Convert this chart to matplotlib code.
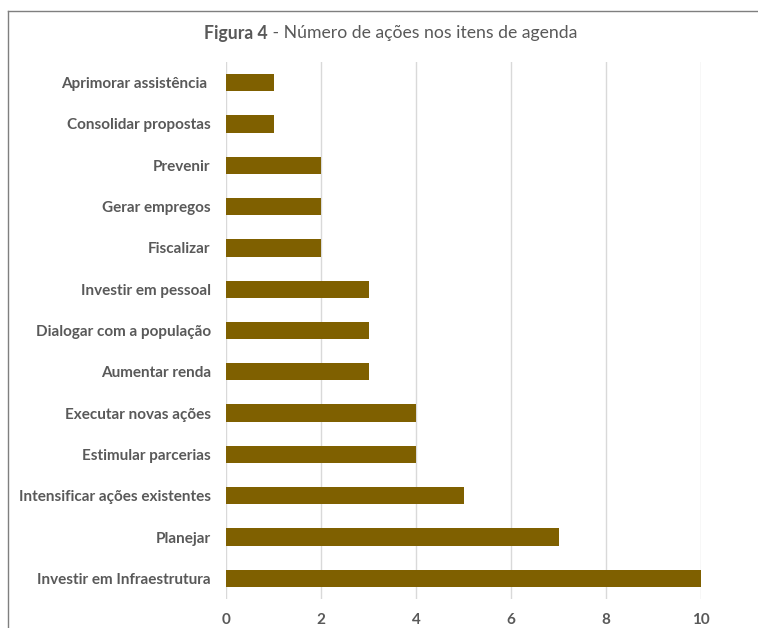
import matplotlib.pyplot as plt
from matplotlib.lines import Line2D

# categories from bottom to top
categories = [
    "Investir em Infraestrutura",
    "Planejar",
    "Intensificar ações existentes",
    "Estimular parcerias",
    "Executar novas ações",
    "Aumentar renda",
    "Dialogar com a população",
    "Investir em pessoal",
    "Fiscalizar",
    "Gerar empregos",
    "Prevenir",
    "Consolidar propostas",
    "Aprimorar assistência ",
]
acoes = [10, 7, 5, 4, 4, 3, 3, 3, 2, 2, 2, 1, 1]
x_ticks = [0, 2, 4, 6, 8, 10]

BAR = "#7F6000"
GREY = "#595959"
FONT = "Lato"


def main():
    fig = plt.figure(figsize=(7.58, 6.28), dpi=100)
    ax = fig.add_axes([226 / 758, 29 / 628, 475 / 758, 537 / 628])

    y = range(len(categories))
    ax.barh(y, acoes, height=0.42, color=BAR, zorder=3)

    ax.set_xlim(0, 10)
    ax.set_ylim(-0.5, len(categories) - 0.5)
    ax.set_xticks(x_ticks)
    ax.set_xticklabels([str(t) for t in x_ticks])
    ax.set_yticks(list(y))
    ax.set_yticklabels(categories)

    ax.grid(axis="x", color="#D9D9D9", linewidth=1, zorder=0)
    for s in ax.spines.values():
        s.set_visible(False)
    ax.tick_params(axis="both", length=0)
    ax.tick_params(axis="y", pad=11)
    ax.tick_params(axis="x", pad=10)
    for lab in ax.get_yticklabels() + ax.get_xticklabels():
        lab.set_fontfamily(FONT)
        lab.set_fontweight("bold")
        lab.set_color(GREY)
        lab.set_fontsize(11)

    # title: bold "Figura 4" followed by regular text
    t1 = fig.text(0.0, 1 - 33 / 628, "Figura 4", fontfamily=FONT,
                  fontweight="bold", fontsize=12.7, color=GREY, va="center")
    t2 = fig.text(0.0, 1 - 33 / 628, " - Número de ações nos itens de agenda",
                  fontfamily=FONT, fontsize=12.7, color=GREY, va="center")
    fig.canvas.draw()
    r = fig.canvas.get_renderer()
    w1 = t1.get_window_extent(r).width
    w2 = t2.get_window_extent(r).width
    start = 391 - (w1 + w2) / 2
    t1.set_x(start / 758)
    t2.set_x((start + w1) / 758)

    # chart frame (partially outside the image)
    fig.add_artist(Line2D([8 / 758, 1.0], [1 - 11 / 628, 1 - 11 / 628],
                          transform=fig.transFigure, color="#7F7F7F", linewidth=1))
    fig.add_artist(Line2D([8 / 758, 8 / 758], [0.0, 1 - 11 / 628],
                          transform=fig.transFigure, color="#7F7F7F", linewidth=1))

    fig.savefig("out.png", dpi=100)


if __name__ == "__main__":
    main()
